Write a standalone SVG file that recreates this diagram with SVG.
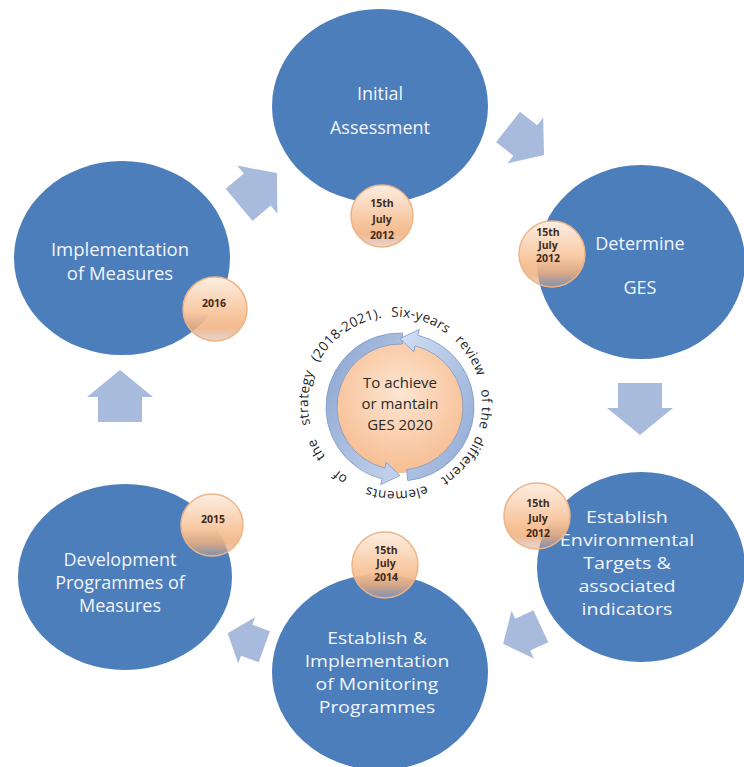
<svg xmlns="http://www.w3.org/2000/svg" width="744" height="767" viewBox="0 0 744 767">
<defs>
  <linearGradient id="badge" x1="0" y1="0" x2="0" y2="1">
    <stop offset="0" stop-color="#fdeee2"/>
    <stop offset="0.55" stop-color="#f8c9a3"/>
    <stop offset="0.8" stop-color="#f1ae7c" stop-opacity="0.85"/>
    <stop offset="1" stop-color="#c9a89a" stop-opacity="0.45"/>
  </linearGradient>
  <radialGradient id="core" cx="0.5" cy="0.4" r="0.6">
    <stop offset="0" stop-color="#fde6d2"/>
    <stop offset="1" stop-color="#f7bd92"/>
  </radialGradient>
  <linearGradient id="ringL" x1="0" y1="0" x2="1" y2="1">
    <stop offset="0" stop-color="#8aa3cf"/>
    <stop offset="1" stop-color="#c7d6ee"/>
  </linearGradient>
  <linearGradient id="ringR" x1="0" y1="0" x2="1" y2="1">
    <stop offset="0" stop-color="#d2e0f4"/>
    <stop offset="1" stop-color="#8ea7d2"/>
  </linearGradient>
  <path id="blk" d="M-26,-22 L-1,-22 L-1,-33 L26,0 L-1,33 L-1,22 L-26,22 Z"/>
  <path id="ringPath" d="M310.23,423.57 A87,87 0 1,1 479.77,384.43 A87,87 0 1,1 310.23,423.57"/>
</defs>
<style>
  .node { fill: #4c7ebb; }
  .ntext { font-family: "Open Sans", "Liberation Sans", sans-serif; fill: #f1f5fb; text-anchor: middle; }
  .badge { fill: url(#badge); stroke: #efb486; stroke-width: 1.5; }
  .btext { font-family: "Open Sans", "Liberation Sans", sans-serif; font-size: 10.5px; font-weight: bold; fill: #3f2a18; text-anchor: middle; }
  .arrow { fill: #a9bbdc; }
  .rtext { font-family: "Open Sans", "Liberation Sans", sans-serif; font-size: 13.5px; letter-spacing: 0.3px; fill: #1d1d1d; text-anchor: middle; }
  .ctext { font-family: "Open Sans", "Liberation Sans", sans-serif; font-size: 15px; fill: #2b2b2b; text-anchor: middle; }
</style>
<rect width="744" height="767" fill="#ffffff"/>

<g id="connectors">
  <use href="#blk" class="arrow" transform="translate(258,189) rotate(-40) scale(0.95)"/>
  <use href="#blk" class="arrow" transform="translate(526,141) rotate(38) scale(0.88)"/>
  <use href="#blk" class="arrow" transform="translate(640,409) rotate(90)"/>
  <use href="#blk" class="arrow" transform="translate(522,635) rotate(155) scale(0.8)"/>
  <use href="#blk" class="arrow" transform="translate(246,640) rotate(200) scale(0.75)"/>
  <use href="#blk" class="arrow" transform="translate(120,396) rotate(-90)"/>
</g>

<g id="initial-assessment">
  <ellipse class="node" cx="380" cy="106" rx="108" ry="97"/>
  <text class="ntext" font-size="18" x="380" y="100">Initial</text>
  <text class="ntext" font-size="18" x="380" y="134">Assessment</text>
  <circle class="badge" cx="382" cy="216" r="31"/>
  <text class="btext" x="382" y="207">15th</text>
  <text class="btext" x="382" y="223">July</text>
  <text class="btext" x="382" y="239">2012</text>
</g>

<g id="determine-ges">
  <ellipse class="node" cx="641" cy="262" rx="104" ry="97"/>
  <text class="ntext" font-size="18" x="640" y="250">Determine</text>
  <text class="ntext" font-size="18" x="640" y="294">GES</text>
  <circle class="badge" cx="552" cy="254" r="33"/>
  <text class="btext" x="548" y="235.5">15th</text>
  <text class="btext" x="548" y="248.5">July</text>
  <text class="btext" x="548" y="261.5">2012</text>
</g>

<g id="establish-targets">
  <ellipse class="node" cx="641" cy="567" rx="104" ry="95"/>
  <g transform="translate(627,0) scale(1.16,1) translate(-627,0)">
    <text class="ntext" font-size="17" x="627" y="523">Establish</text>
    <text class="ntext" font-size="17" x="627" y="546">Environmental</text>
    <text class="ntext" font-size="17" x="627" y="569">Targets &amp;</text>
    <text class="ntext" font-size="17" x="627" y="592">associated</text>
    <text class="ntext" font-size="17" x="627" y="615">indicators</text>
  </g>
  <circle class="badge" cx="537" cy="516" r="33"/>
  <text class="btext" x="538" y="506.5">15th</text>
  <text class="btext" x="538" y="521.5">July</text>
  <text class="btext" x="538" y="536.5">2012</text>
</g>

<g id="monitoring-programmes">
  <ellipse class="node" cx="380" cy="672" rx="108" ry="98"/>
  <g transform="translate(377,0) scale(1.14,1) translate(-377,0)">
    <text class="ntext" font-size="17" x="377" y="644">Establish &amp;</text>
    <text class="ntext" font-size="17" x="377" y="667">Implementation</text>
    <text class="ntext" font-size="17" x="377" y="690">of Monitoring</text>
    <text class="ntext" font-size="17" x="377" y="713">Programmes</text>
  </g>
  <circle class="badge" cx="385" cy="565" r="33"/>
  <text class="btext" x="386" y="553.5">15th</text>
  <text class="btext" x="386" y="566.5">July</text>
  <text class="btext" x="386" y="580.5">2014</text>
</g>

<g id="development-programmes">
  <ellipse class="node" cx="125" cy="577" rx="107" ry="93"/>
  <text class="ntext" font-size="18" x="120" y="566">Development</text>
  <text class="ntext" font-size="18" x="120" y="589">Programmes of</text>
  <text class="ntext" font-size="18" x="120" y="612">Measures</text>
  <circle class="badge" cx="212" cy="525" r="31"/>
  <text class="btext" x="213" y="522.5">2015</text>
</g>

<g id="implementation-measures">
  <ellipse class="node" cx="122" cy="258" rx="108" ry="97"/>
  <text class="ntext" font-size="18.5" x="120" y="256">Implementation</text>
  <text class="ntext" font-size="18.5" x="120" y="280">of Measures</text>
  <circle class="badge" cx="215" cy="309" r="32"/>
  <text class="btext" x="214" y="306.5">2016</text>
</g>

<g id="center-goal">
  <circle cx="400" cy="407" r="66" fill="url(#core)"/>
  <path d="M402.58,333.04 A74,74 0 0,0 382.10,478.80 L380.65,484.62 L400,475.5 L386.21,462.31 L384.76,468.13 A63,63 0 0,1 402.20,344.04 Z" fill="url(#ringL)" stroke="#7f98c4" stroke-width="0.8"/>
  <path d="M407.73,480.60 A74,74 0 0,0 417.90,335.20 L419.35,329.38 L400,338.5 L413.79,351.69 L415.24,345.87 A63,63 0 0,1 406.58,469.65 Z" fill="url(#ringR)" stroke="#7f98c4" stroke-width="0.8"/>
  <text class="ctext" x="400" y="388">To achieve</text>
  <text class="ctext" x="400" y="409">or mantain</text>
  <text class="ctext" x="400" y="430">GES 2020</text>
  <text class="rtext"><textPath href="#ringPath" startOffset="103.3">(2018-2021).</textPath></text>
  <text class="rtext"><textPath href="#ringPath" startOffset="182.2">Six-years</textPath></text>
  <text class="rtext"><textPath href="#ringPath" startOffset="243.7">review</textPath></text>
  <text class="rtext"><textPath href="#ringPath" startOffset="285.5">of</textPath></text>
  <text class="rtext"><textPath href="#ringPath" startOffset="306.7">the</textPath></text>
  <text class="rtext"><textPath href="#ringPath" startOffset="353.8">different</textPath></text>
  <text class="rtext"><textPath href="#ringPath" startOffset="428.2">elements</textPath></text>
  <text class="rtext"><textPath href="#ringPath" startOffset="485.9">of</textPath></text>
  <text class="rtext"><textPath href="#ringPath" startOffset="520.8">the</textPath></text>
  <text class="rtext"><textPath href="#ringPath" startOffset="25.8">strategy</textPath></text>
</g>
</svg>
